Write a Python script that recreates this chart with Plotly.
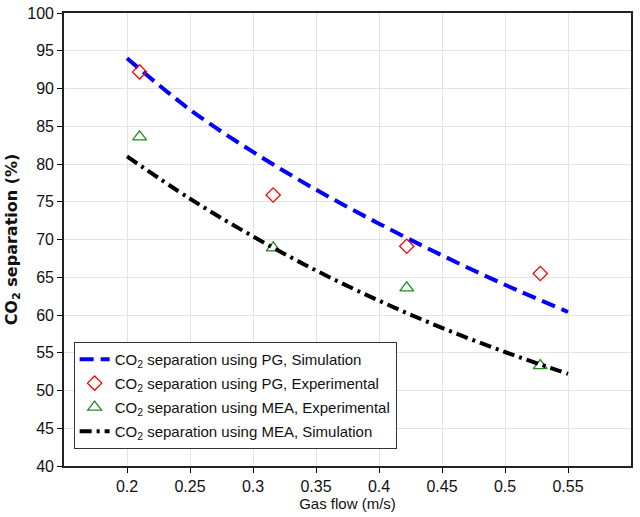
import plotly.graph_objects as go

# Simulation curves
sim_x = [0.20, 0.25, 0.30, 0.35, 0.40, 0.45, 0.50, 0.55]
pg_sim = [94.0, 87.2, 81.6, 76.6, 72.1, 67.9, 64.0, 60.4]
mea_sim = [81.0, 75.4, 70.4, 65.9, 61.9, 58.3, 55.1, 52.2]

# Experimental points
exp_x = [0.21, 0.316, 0.422, 0.528]
pg_exp = [92.2, 75.9, 69.1, 65.5]
mea_exp = [83.6, 68.9, 63.6, 53.3]

x_ticks = [0.2, 0.25, 0.3, 0.35, 0.4, 0.45, 0.5, 0.55]
x_tick_text = ["0.2", "0.25", "0.3", "0.35", "0.4", "0.45", "0.5", "0.55"]
y_ticks = [40, 45, 50, 55, 60, 65, 70, 75, 80, 85, 90, 95, 100]

FONT = "Liberation Sans, Arial, sans-serif"

fig = go.Figure()
fig.add_trace(go.Scatter(
    x=sim_x, y=pg_sim, mode="lines", line_shape="spline", legendgroup="a",
    name="CO<sub>2</sub> separation using PG, Simulation",
    line=dict(color="#0000ff", width=4, dash="14px,7px")))
fig.add_trace(go.Scatter(
    x=exp_x, y=pg_exp, mode="markers", legendgroup="b",
    name="CO<sub>2</sub> separation using PG, Experimental",
    marker=dict(symbol="diamond-open", size=11, color="#ff0000", line=dict(width=1.3))))
fig.add_trace(go.Scatter(
    x=exp_x, y=mea_exp, mode="markers", legendgroup="c",
    name="CO<sub>2</sub> separation using MEA, Experimental",
    marker=dict(symbol="triangle-up-open", size=12, color="#228b22", line=dict(width=1.3))))
fig.add_trace(go.Scatter(
    x=sim_x, y=mea_sim, mode="lines", line_shape="spline", legendgroup="d",
    name="CO<sub>2</sub> separation using MEA, Simulation",
    line=dict(color="#000000", width=4, dash="12px,5px,3px,5px")))

fig.update_layout(
    width=640, height=517,
    margin=dict(l=64, r=9, t=13, b=51, autoexpand=False),
    paper_bgcolor="white", plot_bgcolor="white",
    font=dict(family=FONT, size=15, color="#111111"),
    showlegend=True,
    legend=dict(x=0.017, y=0.274, xanchor="left", yanchor="top",
                bgcolor="white", bordercolor="#333333", borderwidth=1,
                font=dict(family=FONT, size=15), tracegroupgap=1.5, itemwidth=30),
    xaxis2=dict(overlaying="x", side="top", anchor="y", range=[0.15, 0.6],
                tickvals=x_ticks, showticklabels=False, ticks="inside",
                ticklen=6, tickcolor="black", showgrid=False, showline=False,
                zeroline=False, automargin=False),
)
fig.layout.xaxis.update(
    range=[0.15, 0.6], tickvals=x_ticks, ticktext=x_tick_text,
    showgrid=True, gridcolor="#e3e3e3", gridwidth=1,
    showline=True, linecolor="#222222", linewidth=1.6, mirror=True,
    ticks="outside", ticklen=5, tickcolor="black",
    tickfont=dict(family=FONT, size=16), automargin=False,
    ticklabeloverflow="allow",
    title=dict(text="Gas flow (m/s)", font=dict(family=FONT, size=15), standoff=0),
    zeroline=False)
fig.layout.yaxis.update(
    range=[40, 100], tickvals=y_ticks,
    showgrid=True, gridcolor="#e3e3e3", gridwidth=1,
    showline=True, linecolor="#222222", linewidth=1.6, mirror=True,
    ticks="outside", ticklen=5, tickcolor="black",
    tickfont=dict(family=FONT, size=16), automargin=False,
    ticklabeloverflow="allow",
    title=dict(text="<b>CO<sub>2</sub> separation (%)</b>",
               font=dict(family="DejaVu Sans, sans-serif", size=16), standoff=6),
    zeroline=False)

fig.write_html("out.html",
               config={"displayModeBar": False},
               post_script="document.body.style.margin='0';document.body.style.overflow='hidden';")
